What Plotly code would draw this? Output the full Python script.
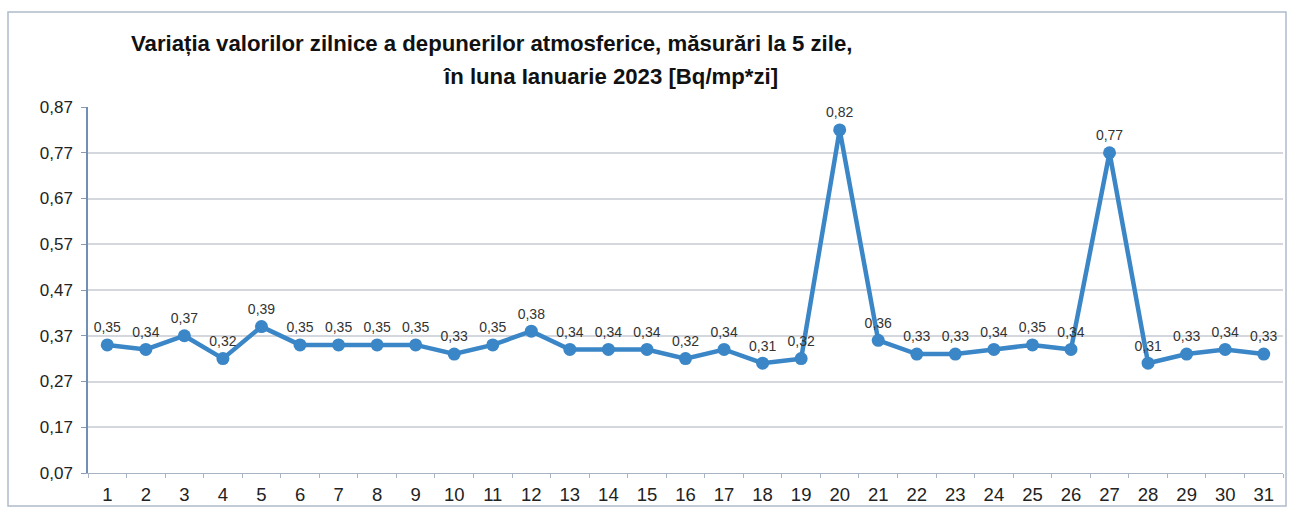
import plotly.graph_objects as go

days = list(range(1, 32))
values = [0.35, 0.34, 0.37, 0.32, 0.39, 0.35, 0.35, 0.35, 0.35, 0.33, 0.35, 0.38,
          0.34, 0.34, 0.34, 0.32, 0.34, 0.31, 0.32, 0.82, 0.36, 0.33, 0.33, 0.34,
          0.35, 0.34, 0.77, 0.31, 0.33, 0.34, 0.33]
y_ticks = [0.07, 0.17, 0.27, 0.37, 0.47, 0.57, 0.67, 0.77, 0.87]
title_line1 = "Variația valorilor zilnice a depunerilor atmosferice, măsurări la 5 zile,"
title_line2 = "în luna Ianuarie 2023 [Bq/mp*zi]"

W, H = 1295, 508
ml, mr, mt, mb = 88, 12, 107, 35
pw, ph = W - ml - mr, H - mt - mb

def px(x):
    return (x - ml) / pw

def py(y):
    return (H - mb - y) / ph

fig = go.Figure()
fig.add_trace(go.Scatter(
    x=days, y=values, mode="lines+markers+text",
    line=dict(color="#3a86c6", width=4.5),
    marker=dict(color="#3a86c6", size=13),
    text=values, texttemplate="%{y:.2f}", textposition="top center",
    textfont=dict(family="Liberation Sans, Arial", size=14, color="#333333"),
    cliponaxis=False, showlegend=False, hoverinfo="skip",
))

fig.update_layout(
    width=W, height=H,
    margin=dict(l=ml, r=mr, t=mt, b=mb, autoexpand=False),
    paper_bgcolor="white", plot_bgcolor="white",
    separators=",.",
    font=dict(family="Liberation Sans, Arial", color="#222222"),
    xaxis=dict(
        range=[0.5, 31.5], tickmode="array", tickvals=days, automargin=False,
        ticktext=[str(d) for d in days], tickfont=dict(size=18.5),
        showgrid=False, zeroline=False, showline=True, linecolor="#a8b4c4",
        ticks="", ticklabelstandoff=5,
        minor=dict(ticks="outside", tick0=0.5, dtick=1, ticklen=4, tickcolor="#a8b4c4"),
    ),
    yaxis=dict(
        range=[0.07, 0.87], tickmode="array", tickvals=y_ticks, automargin=False,
        ticktext=[f"{v:.2f}".replace(".", ",") for v in y_ticks],
        tickfont=dict(size=17),
        showgrid=True, gridcolor="#d4d8de", gridwidth=1.5,
        zeroline=False, showline=True, linecolor="#6f8fb5", linewidth=1.5,
        ticks="outside", ticklen=5, tickcolor="#8a9ab0", ticklabelstandoff=5,
    ),
    annotations=[
        dict(text="<b>" + title_line1 + "</b>", xref="paper", yref="paper",
             x=px(491), y=py(43), xanchor="center", yanchor="middle",
             showarrow=False, font=dict(size=22.2, color="#111111")),
        dict(text="<b>" + title_line2 + "</b>", xref="paper", yref="paper",
             x=px(610), y=py(76), xanchor="center", yanchor="middle",
             showarrow=False, font=dict(size=22.2, color="#111111")),
    ],
    shapes=[
        dict(type="rect", xref="paper", yref="paper",
             x0=px(8), x1=px(1286), y0=py(506), y1=py(12),
             line=dict(color="#aebccc", width=1.5), fillcolor="rgba(0,0,0,0)", layer="below"),
    ],
)

fig.write_html("out.html", config={"displayModeBar": False},
               post_script="document.body.style.margin='0';document.body.style.overflow='hidden';")
